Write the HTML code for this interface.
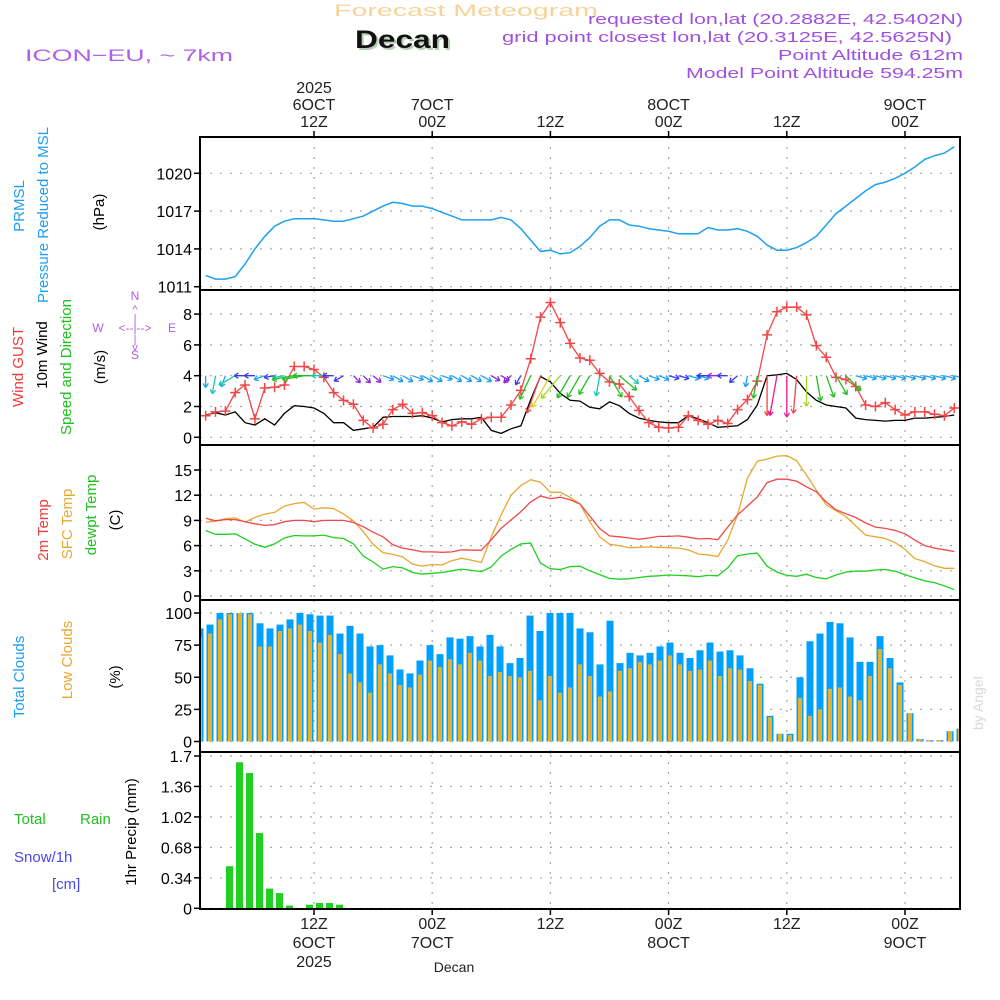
<!DOCTYPE html>
<html><head><meta charset="utf-8"><style>
html,body{margin:0;padding:0;background:#fff;}
svg{display:block;}
text{font-family:"Liberation Sans",sans-serif;}
</style></head><body>
<svg id="chart" width="1000" height="1000" viewBox="0 0 1000 1000" xmlns="http://www.w3.org/2000/svg">
<g>
<text x="334" y="16" font-size="17" fill="#f5d49a" textLength="264" lengthAdjust="spacingAndGlyphs">Forecast Meteogram</text>
<text x="357" y="50" font-size="25" font-weight="bold" font-family="Liberation Mono" fill="#b8ccb8" textLength="95" lengthAdjust="spacingAndGlyphs">Decan</text>
<text x="355" y="48" font-size="25" font-weight="bold" font-family="Liberation Mono" fill="#111" textLength="95" lengthAdjust="spacingAndGlyphs">Decan</text>
<text x="25" y="61" font-size="17" fill="#b060e8" textLength="208" lengthAdjust="spacingAndGlyphs">ICON−EU, ~ 7km</text>
<text x="588" y="24" font-size="15" fill="#a050e0" textLength="375" lengthAdjust="spacingAndGlyphs">requested lon,lat (20.2882E, 42.5402N)</text>
<text x="502" y="42" font-size="15" fill="#a050e0" textLength="450" lengthAdjust="spacingAndGlyphs">grid point closest lon,lat (20.3125E, 42.5625N)</text>
<text x="778" y="60" font-size="15" fill="#a050e0" textLength="185" lengthAdjust="spacingAndGlyphs">Point Altitude 612m</text>
<text x="686" y="78" font-size="15" fill="#a050e0" textLength="277" lengthAdjust="spacingAndGlyphs">Model Point Altitude 594.25m</text>
<text transform="translate(983,730) rotate(-90)" font-size="14" font-family="Liberation Serif" fill="#d8d8d8">by Angel</text>
</g>
<g font-size="15">
<text transform="translate(24,206) rotate(-90)" text-anchor="middle" fill="#1e9ef0">PRMSL</text>
<text transform="translate(48,215) rotate(-90)" text-anchor="middle" fill="#1e9ef0">Pressure Reduced to MSL</text>
<text transform="translate(104,212) rotate(-90)" text-anchor="middle" fill="#000">(hPa)</text>
<text transform="translate(23,367) rotate(-90)" text-anchor="middle" fill="#f03c3c">Wind GUST</text>
<text transform="translate(47,355) rotate(-90)" text-anchor="middle" fill="#000">10m Wind</text>
<text transform="translate(71,367) rotate(-90)" text-anchor="middle" fill="#20c020">Speed and Direction</text>
<text transform="translate(105,367) rotate(-90)" text-anchor="middle" fill="#000">(m/s)</text>
<g fill="#b060e8" font-size="12" text-anchor="middle">
<text x="135" y="300">N</text><text x="135" y="359">S</text><text x="98" y="332">W</text><text x="172" y="332">E</text>
<text x="135" y="332" font-size="12">&lt;--|--&gt;</text>
<text x="135" y="313" font-size="11">^</text><text x="135" y="322" font-size="11">|</text><text x="135" y="343" font-size="11">|</text><text x="135" y="351" font-size="11">v</text>
</g>
<text transform="translate(48,530) rotate(-90)" text-anchor="middle" fill="#f03c3c">2m Temp</text>
<text transform="translate(72,524) rotate(-90)" text-anchor="middle" fill="#e8a830">SFC Temp</text>
<text transform="translate(96,515) rotate(-90)" text-anchor="middle" fill="#20c020">dewpt Temp</text>
<text transform="translate(120,520) rotate(-90)" text-anchor="middle" fill="#000">(C)</text>
<text transform="translate(24,677) rotate(-90)" text-anchor="middle" fill="#1e9ef0">Total Clouds</text>
<text transform="translate(72,660) rotate(-90)" text-anchor="middle" fill="#e8a830">Low Clouds</text>
<text transform="translate(120,677) rotate(-90)" text-anchor="middle" fill="#000">(%)</text>
<text x="14" y="824" fill="#20c020">Total</text>
<text x="80" y="824" fill="#20c020">Rain</text>
<text x="14" y="862" fill="#4848f0">Snow/1h</text>
<text x="52" y="889" fill="#4848f0">[cm]</text>
<text transform="translate(136,832) rotate(-90)" text-anchor="middle" fill="#000">1hr Precip (mm)</text>
</g>
<g id="plot"></g>
</svg>
<script>
// ---------- data ----------
const pressureHours = [1,2,3,4,5,6,7,8,9,10,11,12,13,14,15,16,17,18,19,20,21,22,23,24,25,26,27,28,29,30,31,32,33,34,35,36,37,38,39,40,41,42,43,44,45,46,47,48,49,50,51,52,53,54,55,56,57,58,59,60,61,62,63,64,65,66,67,68,69,70,71,72,73,74,75,76,77];
const pressure = [1011.9,1011.6,1011.6,1011.8,1012.8,1014.0,1015.0,1015.8,1016.2,1016.4,1016.4,1016.4,1016.3,1016.2,1016.2,1016.4,1016.6,1017.0,1017.4,1017.7,1017.6,1017.4,1017.4,1017.2,1016.9,1016.6,1016.3,1016.3,1016.3,1016.3,1016.5,1016.3,1015.6,1014.7,1013.8,1013.9,1013.6,1013.7,1014.2,1014.9,1015.8,1016.3,1016.3,1015.9,1015.8,1015.6,1015.5,1015.4,1015.2,1015.2,1015.2,1015.7,1015.5,1015.5,1015.6,1015.4,1015.0,1014.3,1013.9,1013.9,1014.1,1014.5,1015.0,1015.9,1016.8,1017.4,1018.0,1018.6,1019.1,1019.3,1019.6,1020.0,1020.5,1021.1,1021.4,1021.6,1022.1];
const windGust = [1.4,1.65,1.7,2.9,3.4,1.2,3.2,3.25,3.4,4.6,4.6,4.4,3.9,2.9,2.4,2.15,1.1,0.6,0.85,1.8,2.15,1.55,1.6,1.4,0.95,0.75,1.0,0.85,1.2,1.3,1.3,2.1,3.05,5.1,7.8,8.75,7.45,6.1,5.15,5.0,4.15,3.6,3.45,2.65,1.75,0.95,0.65,0.6,0.65,1.4,1.1,0.85,1.1,0.9,1.8,2.45,3.65,6.65,8.15,8.45,8.45,7.95,5.95,5.2,3.9,3.75,3.3,2.1,2.0,2.25,1.8,1.45,1.65,1.65,1.5,1.4,1.9];
const windSpeed = [1.45,1.6,1.45,1.65,0.95,0.8,1.2,0.8,1.55,2.05,2.0,1.9,1.55,0.95,0.95,0.45,0.55,0.65,1.3,1.35,1.35,1.35,1.4,1.25,1.0,1.15,1.2,1.2,1.3,0.45,0.25,0.55,0.75,2.45,3.95,3.6,2.85,2.4,2.35,1.95,1.85,2.3,2.05,1.55,1.25,1.1,1.0,0.95,0.95,1.4,1.2,0.95,0.65,0.7,0.75,1.15,2.1,4.0,4.05,4.15,3.75,2.95,2.4,2.1,2.0,1.9,1.25,1.15,1.1,1.05,1.1,1.1,1.25,1.25,1.3,1.35,1.45];
const windDirDeg = [90,100,110,150,180,180,160,170,170,170,170,180,180,180,150,45,45,40,20,30,30,20,30,30,20,30,30,30,30,30,30,135,120,115,110,120,130,120,120,120,100,60,40,40,30,20,20,15,15,15,15,180,180,180,140,100,100,90,100,90,95,90,80,70,60,45,15,15,15,15,15,15,15,15,15,15,15];
const temp2m = [9.25,8.97,9.1,9.1,8.85,8.6,8.4,8.5,8.85,9.0,9.0,8.85,9.0,9.0,9.0,8.75,8.25,7.6,7.05,6.1,5.7,5.5,5.25,5.25,5.2,5.25,5.5,5.45,5.45,6.7,8.05,9.05,10.05,11.2,11.9,11.6,11.75,11.45,10.95,9.5,8.05,7.15,7.05,6.9,6.75,6.9,7.1,7.1,7.15,7.0,6.8,6.85,6.7,8.2,9.65,10.7,11.8,13.5,13.9,13.9,13.65,13.0,12.4,11.2,10.25,9.8,9.35,8.7,8.2,8.05,7.8,7.4,6.65,6.0,5.7,5.5,5.3];
const tempSfc = [8.8,8.9,9.2,9.3,8.8,9.35,9.75,9.95,10.7,11.0,11.15,10.35,10.5,10.4,9.75,8.95,7.65,6.15,5.15,4.95,4.65,3.8,3.55,3.75,3.7,4.2,4.5,4.25,4.0,7.05,9.65,12.0,13.15,13.85,13.55,12.35,12.35,11.75,10.95,8.85,7.05,6.15,6.0,5.75,5.8,5.85,5.8,5.75,5.7,5.5,5.0,4.9,4.7,6.65,9.65,14.0,16.05,16.3,16.65,16.7,16.1,14.4,12.6,10.85,10.15,9.45,8.35,7.25,7.05,6.85,6.35,5.55,4.45,4.1,3.6,3.3,3.3];
const tempDew = [7.8,7.35,7.35,7.4,6.8,6.15,5.8,6.2,6.9,7.2,7.15,7.15,7.25,6.95,6.85,6.2,4.75,4.05,3.2,3.5,3.35,2.8,2.6,2.7,2.8,3.0,3.2,3.05,2.9,3.45,4.75,5.55,6.2,6.3,3.9,3.25,3.15,3.5,3.55,3.0,2.55,2.1,2.0,2.05,2.2,2.35,2.4,2.5,2.45,2.4,2.3,2.45,2.4,3.35,4.8,5.0,5.1,3.55,2.85,2.45,2.35,2.6,2.2,2.05,2.5,2.85,2.95,2.95,3.1,3.15,2.95,2.55,2.15,1.8,1.6,1.2,0.75];
const totalClouds = [88,91,100,100,100,100,92,88,91,95,100,99,98,98,84,90,84,74,75,67,56,53,63,75,68,81,80,82,74,83,74,61,65,98,86,100,100,100,88,85,60,94,61,69,67,69,74,77,69,65,71,77,70,71,67,57,45,20,6,6,50,78,84,93,92,81,62,62,82,65,46,22,2,1,1,8,10];
const lowClouds = [81,84,95,99,100,99,74,74,86,88,91,86,77,83,68,53,46,38,60,53,44,42,52,63,58,64,60,69,63,51,54,51,50,55,32,51,38,42,60,51,35,39,55,57,62,60,63,67,60,55,56,63,51,57,56,47,44,19,6,5,34,20,25,41,42,35,32,51,72,57,44,22,2,1,1,8,10];
const precip = [0,0,0,0.47,1.63,1.51,0.84,0.22,0.17,0.03,0,0.04,0.06,0.06,0.04];
const pressTicks = [1011,1014,1017,1020];
const windTicks = [0,2,4,6,8];
const tempTicks = [0,3,6,9,12,15];
const cloudTicks = [0,25,50,75,100];
const precipTicks = [0,0.34,0.68,1.02,1.36,1.7];
const timeTickHours = [12,24,36,48,60,72];
const topLabels = [["2025","6OCT","12Z"],["7OCT","00Z"],["12Z"],["8OCT","00Z"],["12Z"],["9OCT","00Z"]];
const bottomLabels = [["12Z","6OCT","2025"],["00Z","7OCT"],["12Z"],["00Z","8OCT"],["12Z"],["00Z","9OCT"]];

// ---------- scales ----------
const X0=200, X1=960;
const xs = h => 195.8 + 9.85*h;
const xb = k => 200 + 10*k;
const panels = {
 p:{top:137,bot:290,y:v=>173.3+(1020-v)*12.6},
 w:{top:290,bot:445,y:v=>437.3-v*15.4},
 t:{top:445,bot:600,y:v=>596-v*8.4},
 c:{top:600,bot:752,y:v=>741.5-v*1.285},
 r:{top:752,bot:909,y:v=>908.3-v*89.6}
};
const NS="http://www.w3.org/2000/svg";
const plot=document.getElementById('plot');
function mk(tag,attrs,parent){const e=document.createElementNS(NS,tag);for(const k in attrs)e.setAttribute(k,attrs[k]);(parent||plot).appendChild(e);return e;}

const defs=mk('defs',{});
const cp=mk('clipPath',{id:'clipPlot'},defs);
mk('rect',{x:X0,y:137,width:X1-X0,height:772},cp);

function gridPanel(key,ticks,fmt){
 const P=panels[key];
 const g=mk('g',{});
 
 
 ticks.forEach(v=>{
  const y=P.y(v);
  const gl=mk('line',{x1:X0,x2:X1,y1:y,y2:y,stroke:'#a8a8a8','stroke-dasharray':'2,8','stroke-width':1.2},g);
  
  
  mk('line',{x1:X0-6,x2:X0,y1:y,y2:y,stroke:'#000','stroke-width':1.5},g);
  const t=mk('text',{x:X0-8,y:y+6,'text-anchor':'end','font-size':16,fill:'#000'},g);
  
  
  t.textContent=fmt?fmt(v):v;
 });
 timeTickHours.forEach(h=>{
  const x=xs(h);
  const vl=mk('line',{x1:x,x2:x,y1:P.top,y2:P.bot,stroke:'#a8a8a8','stroke-dasharray':'2,8','stroke-width':1.2},g);
  
  
 });
}
gridPanel('p',pressTicks);
gridPanel('w',windTicks);
gridPanel('t',tempTicks);
gridPanel('c',cloudTicks);
gridPanel('r',precipTicks,v=>v===0?'0':(v===1.7?'1.7':v.toFixed(2)));

const data=mk('g',{'clip-path':'url(#clipPlot)'});



totalClouds.forEach((v,k)=>{
 const r=mk('rect',{x:xb(k)-3.5,y:panels.c.y(v),width:7,height:panels.c.y(0)-panels.c.y(v),fill:'#00a0ff'},data);
 
 
});
lowClouds.forEach((v,k)=>{
 const r=mk('rect',{x:xb(k)-2,y:panels.c.y(v),width:4,height:panels.c.y(0)-panels.c.y(v),fill:'#e8b030'},data);
 
 
});
precip.forEach((v,k)=>{
 if(v<=0)return;
 const r=mk('rect',{x:xb(k)-4,y:panels.r.y(v),width:7,height:panels.r.y(0)-panels.r.y(v),fill:'#20d020'},data);
 
 
});

function line(vals,key,color,name,w){
 const pts=vals.map((v,i)=>xs(pressureHours[i]).toFixed(1)+','+panels[key].y(v).toFixed(1)).join(' ');
 const pl=mk('polyline',{points:pts,fill:'none',stroke:color,'stroke-width':w||1.3},data);
 
 
 return pl;
}
line(pressure,'p','#1ea0f0','pressure-line',1.5);
line(tempSfc,'t','#e8a830','sfc-temp-line');
line(temp2m,'t','#f04848','temp-2m-line');
line(tempDew,'t','#20d020','dewpoint-line');
line(windSpeed,'w','#000','wind-speed-line');
line(windGust,'w','#f04848','wind-gust-line');
windGust.forEach((v,i)=>{
 const x=xs(pressureHours[i]),y=panels.w.y(v);
 const m=mk('path',{d:`M${x-5},${y}H${x+5}M${x},${y-5}V${y+5}`,stroke:'#f04848','stroke-width':1.5},data);
 
 
});
function wcol(s){if(s<0.7)return '#8a28e0';if(s<1.0)return '#3a3af0';if(s<1.5)return '#1ea0f0';if(s<1.9)return '#18c8b0';if(s<2.5)return '#20c020';if(s<3.0)return '#a0d820';if(s<3.7)return '#e0d020';if(s<4.05)return '#f04848';return '#f01890';}
windDirDeg.forEach((d,i)=>{
 const s=windSpeed[i];
 const x=xs(pressureHours[i]), y=panels.w.y(4);
 const L=s<1.6?9+2*s:4+9*s, a=d*Math.PI/180;
 const ex=x+L*Math.cos(a), ey=y+L*Math.sin(a);
 const c=wcol(s);
 const h1=a+Math.PI*0.82,h2=a-Math.PI*0.82;
 const p=mk('path',{d:`M${x},${y}L${ex},${ey}M${ex},${ey}L${ex+5*Math.cos(h1)},${ey+5*Math.sin(h1)}M${ex},${ey}L${ex+5*Math.cos(h2)},${ey+5*Math.sin(h2)}`,stroke:c,'stroke-width':1.3,fill:'none'},data);
 
 
});

['p','w','t','c','r'].forEach(k=>{
 const P=panels[k];
 const f=mk('rect',{x:X0,y:P.top,width:X1-X0,height:P.bot-P.top,fill:'none',stroke:'#000','stroke-width':2});
 
 
});
timeTickHours.forEach((h,i)=>{
 const x=xs(h);
 mk('line',{x1:x,x2:x,y1:131,y2:137,stroke:'#000','stroke-width':1.5});
 mk('line',{x1:x,x2:x,y1:909,y2:915,stroke:'#000','stroke-width':1.5});
 const tl=topLabels[i];
 tl.forEach((s,j)=>{
  const t=mk('text',{x:x,y:127-(tl.length-1-j)*17,'text-anchor':'middle','font-size':16,fill:'#222'});
  
  
  t.textContent=s;
 });
 bottomLabels[i].forEach((s,j)=>{
  const t=mk('text',{x:x,y:929+j*19,'text-anchor':'middle','font-size':16,fill:'#222'});
  
  
  t.textContent=s;
 });
});
const ft=mk('text',{x:454,y:972,'text-anchor':'middle','font-size':14,'font-family':'Liberation Mono',fill:'#222'});


ft.textContent='Decan';
</script>
</body></html>
